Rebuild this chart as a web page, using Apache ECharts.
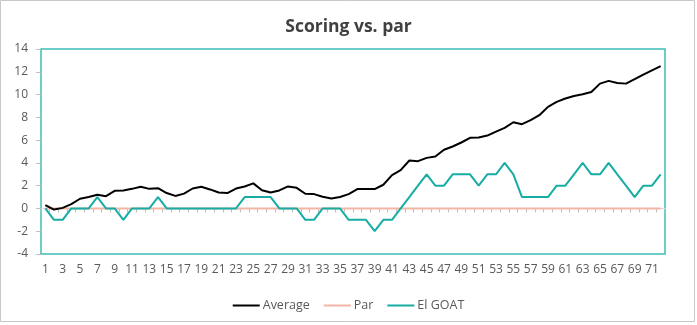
<!DOCTYPE html>
<html>
<head>
<meta charset="utf-8">
<script src="https://cdn.jsdelivr.net/npm/echarts@6/dist/echarts.min.js"></script>
<style>
  html, body { margin: 0; padding: 0; background: #fff; }
  #chart { width: 697px; height: 325px; }
</style>
</head>
<body>
<div id="chart"></div>
<script>
// Rounds 1..72
const rounds = Array.from({ length: 72 }, (_, i) => String(i + 1));

// Running average vs. par
const average = [
  0.3, -0.1, 0.05, 0.38, 0.85, 1.0, 1.2, 1.08, 1.55, 1.58,
  1.72, 1.9, 1.72, 1.78, 1.35, 1.1, 1.3, 1.75, 1.9, 1.67,
  1.4, 1.35, 1.75, 1.93, 2.2, 1.6, 1.4, 1.58, 1.93, 1.81,
  1.29, 1.26, 1.02, 0.88, 1.0, 1.26, 1.7, 1.7, 1.7, 2.08,
  2.92, 3.36, 4.21, 4.15, 4.44, 4.56, 5.15, 5.44, 5.79, 6.2,
  6.23, 6.4, 6.75, 7.08, 7.57, 7.4, 7.75, 8.19, 8.92, 9.36,
  9.65, 9.88, 10.03, 10.23, 10.96, 11.2, 11.02, 10.96, 11.35, 11.75,
  12.13, 12.49
];

// Par reference line
const par = rounds.map(() => 0);

// El GOAT score vs. par per round
const elGoat = [
  0, -1, -1, 0, 0, 0, 1, 0, 0, -1,
  0, 0, 0, 1, 0, 0, 0, 0, 0, 0,
  0, 0, 0, 1, 1, 1, 1, 0, 0, 0,
  -1, -1, 0, 0, 0, -1, -1, -1, -2, -1,
  -1, 0, 1, 2, 3, 2, 2, 3, 3, 3,
  2, 3, 3, 4, 3, 1, 1, 1, 1, 2,
  2, 3, 4, 3, 3, 4, 3, 2, 1, 2,
  2, 3
];

const yTicks = { min: -4, max: 14, interval: 2 };

const FONT = "'Open Sans', 'Noto Sans', sans-serif";
const TEXT = '#595959';

const chart = echarts.init(document.getElementById('chart'), null, { renderer: 'canvas' });

chart.setOption({
  animation: false,
  backgroundColor: '#ffffff',
  textStyle: { fontFamily: FONT },
  title: {
    text: 'Scoring vs. par',
    left: 'center',
    top: 13,
    textStyle: { fontFamily: FONT, fontSize: 17.5, fontWeight: 'bold', color: '#404040' }
  },
  graphic: [{
    type: 'rect',
    shape: { x: 0.5, y: 0.5, width: 694, height: 321 },
    style: { fill: 'none', stroke: '#C8C8C8', lineWidth: 1 },
    silent: true,
    z: -1
  }],
  legend: {
    bottom: 8,
    left: 'center',
    icon: 'rect',
    itemWidth: 27,
    itemHeight: 2,
    itemGap: 14,
    textStyle: { fontFamily: FONT, fontSize: 12.5, color: TEXT, padding: [0, 0, 0, -2] },
    data: ['Average', 'Par', 'El GOAT']
  },
  grid: {
    left: 41, right: 32, top: 49, bottom: 71,
    show: true,
    borderColor: '#3EBFB8',
    borderWidth: 1.5,
    backgroundColor: 'transparent'
  },
  xAxis: [{
    type: 'category',
    data: rounds,
    boundaryGap: true,
    position: 'bottom',
    axisLine: { show: false, onZero: false },
    axisTick: { show: false },
    axisLabel: { interval: 1, color: TEXT, fontSize: 12, fontFamily: FONT, margin: 10 },
    splitLine: { show: false }
  }, {
    type: 'category',
    data: rounds,
    boundaryGap: true,
    position: 'bottom',
    axisLine: { show: true, onZero: true, lineStyle: { color: '#D9D9D9', width: 1 } },
    axisTick: { show: true, length: 4, interval: 0, lineStyle: { color: '#BFBFBF' } },
    axisLabel: { show: false },
    splitLine: { show: false }
  }],
  yAxis: {
    type: 'value',
    min: yTicks.min,
    max: yTicks.max,
    interval: yTicks.interval,
    axisLine: { show: false },
    axisTick: { show: true, length: 5, lineStyle: { color: '#BFBFBF' } },
    axisLabel: { color: TEXT, fontSize: 12, fontFamily: FONT, margin: 13 },
    splitLine: { show: false }
  },
  series: [{
    name: 'Par',
    type: 'line',
    data: par,
    xAxisIndex: 0,
    showSymbol: false,
    symbol: 'none',
    lineStyle: { color: '#F4B5A5', width: 2 },
    itemStyle: { color: '#F4B5A5' },
    z: 2
  }, {
    name: 'Average',
    type: 'line',
    data: average,
    xAxisIndex: 0,
    showSymbol: false,
    symbol: 'none',
    lineStyle: { color: '#000000', width: 2 },
    itemStyle: { color: '#000000' },
    z: 4
  }, {
    name: 'El GOAT',
    type: 'line',
    data: elGoat,
    xAxisIndex: 0,
    showSymbol: false,
    symbol: 'none',
    lineStyle: { color: '#17ADA5', width: 2 },
    itemStyle: { color: '#17ADA5' },
    z: 3
  }]
});
</script>
</body>
</html>
